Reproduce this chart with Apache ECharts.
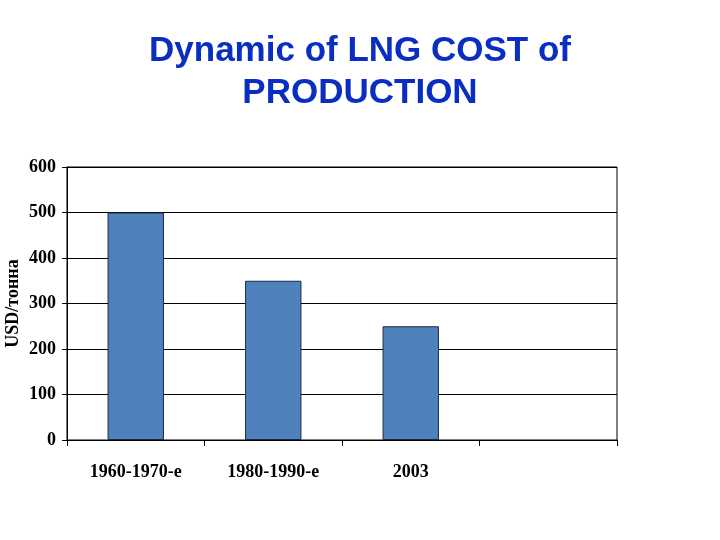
<!DOCTYPE html>
<html>
<head>
<meta charset="utf-8">
<script src="https://cdn.jsdelivr.net/npm/echarts@6/dist/echarts.min.js"></script>
<style>html,body{margin:0;padding:0;background:#fff}#c{width:720px;height:540px}</style>
</head>
<body>
<div id="c"></div>
<script>
const categories = ['1960-1970-е', '1980-1990-е', '2003', ''];
const costValues = [500, 350, 250, null];
const yTicks = { min: 0, max: 600, interval: 100 };
const titleLines = ['Dynamic of LNG COST of', 'PRODUCTION'];
const yAxisName = 'USD/тонна';

const chart = echarts.init(document.getElementById('c'));
const serif = "'Liberation Serif', 'Times New Roman', serif";
chart.setOption({
  backgroundColor: '#fff',
  animation: false,
  title: {
    text: titleLines.join('\n'),
    left: 'center',
    top: 25,
    textStyle: { fontFamily: "'Liberation Sans', Arial, sans-serif", fontSize: 35, fontWeight: 'bold', color: '#0A2EC2', lineHeight: 42 }
  },
  grid: { left: 67, right: 103, top: 167, bottom: 100, containLabel: false, outerBoundsMode: 'none', show: true, borderColor: '#000', borderWidth: 1, backgroundColor: 'transparent' },
  xAxis: {
    type: 'category',
    data: categories,
    axisLine: { lineStyle: { color: '#000', width: 1 } },
    axisTick: { show: true, length: 6, lineStyle: { color: '#000' } },
    axisLabel: { color: '#000', fontFamily: serif, fontWeight: 'bold', fontSize: 18, margin: 23 }
  },
  yAxis: {
    type: 'value',
    min: yTicks.min, max: yTicks.max, interval: yTicks.interval,
    name: yAxisName,
    nameLocation: 'middle',
    nameRotate: 90,
    nameGap: 45,
    nameMoveOverlap: false,
    nameTextStyle: { color: '#000', fontFamily: serif, fontWeight: 'bold', fontSize: 18 },
    axisLine: { show: true, lineStyle: { color: '#000', width: 1 } },
    axisTick: { show: true, length: 5, lineStyle: { color: '#000' } },
    splitLine: { show: true, lineStyle: { color: '#000', width: 1 } },
    axisLabel: { color: '#000', fontFamily: serif, fontWeight: 'bold', fontSize: 18, margin: 11 }
  },
  series: [{
    type: 'bar',
    data: costValues,
    barWidth: '41%',
    itemStyle: { color: '#4F81BD', borderColor: '#1A2A44', borderWidth: 1 }
  }]
});
</script>
</body>
</html>
